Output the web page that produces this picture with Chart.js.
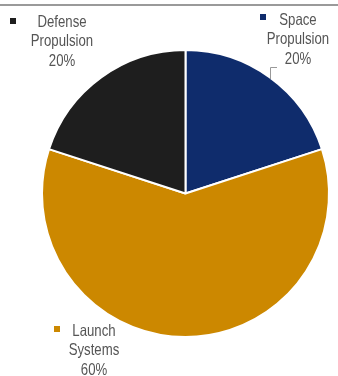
<!DOCTYPE html>
<html lang="en">
  <head>
    <meta charset="UTF-8" />
    <title>Segment mix</title>
    <script src="https://cdn.jsdelivr.net/npm/chart.js"></script>
    <style>
      * {
        box-sizing: border-box;
        padding: 0;
        margin: 0;
      }
      body {
        background: #fff;
        width: 338px;
        height: 376px;
        position: relative;
      }
      .rule {
        position: absolute;
        left: 0;
        top: 4px;
        width: 338px;
        height: 2px;
        background: #9a9a9a;
      }
      div.wrap {
        position: absolute;
        left: 0;
        top: 0;
        width: 338px;
        height: 376px;
      }
    </style>
  </head>
  <body>
    <div class="rule"></div>
    <div class="wrap"><canvas id="myChart"></canvas></div>
  </body>
  <script>
    const segments = ["Space Propulsion", "Launch Systems", "Defense Propulsion"];
    const shares = [20, 60, 20];
    const colors = ["#0f2c6c", "#cc8800", "#1e1e1e"];

    // where each label block sits (centre x, first line y) and its marker
    const labelSpots = [
      { x: 298, y: 20, mx: 263, my: 17, lines: ["Space", "Propulsion"] },
      { x: 94, y: 331, mx: 57, my: 329, lines: ["Launch", "Systems"] },
      { x: 62, y: 22, mx: 13, my: 21, lines: ["Defense", "Propulsion"] },
    ];

    const labelPlugin = {
      id: "sliceLabels",
      afterDraw(chart) {
        const c = chart.ctx;
        c.save();
        c.font = '16.5px "Liberation Sans", sans-serif';
        c.textAlign = "center";
        c.textBaseline = "middle";
        labelSpots.forEach((s, i) => {
          c.fillStyle = colors[i];
          c.fillRect(s.mx - 3, s.my - 3, 6, 6);
          c.fillStyle = "#555";
          const lines = s.lines.concat([shares[i] + "%"]);
          lines.forEach((t, k) => {
            // squeeze the text sideways, the original face is a narrow one
            c.save();
            c.translate(s.x, s.y + k * 19.5);
            c.scale(0.8, 1);
            c.fillText(t, 0, 0);
            c.restore();
          });
        });
        // small leader for the space slice
        c.strokeStyle = "#999";
        c.lineWidth = 1;
        c.beginPath();
        c.moveTo(270.5, 79);
        c.lineTo(270.5, 67.5);
        c.lineTo(277, 67.5);
        c.stroke();
        c.restore();
      },
    };

    const ctx = document.getElementById("myChart").getContext("2d");
    new Chart(ctx, {
      type: "pie",
      data: {
        labels: segments,
        datasets: [
          {
            data: shares,
            backgroundColor: colors,
            borderColor: "#fff",
            borderWidth: 2,
          },
        ],
      },
      options: {
        responsive: true,
        maintainAspectRatio: false,
        animation: false,
        layout: { padding: { left: 41, right: 8, top: 49, bottom: 38 } },
        plugins: {
          legend: { display: false },
          tooltip: { enabled: false },
        },
      },
      plugins: [labelPlugin],
    });
  </script>
</html>
